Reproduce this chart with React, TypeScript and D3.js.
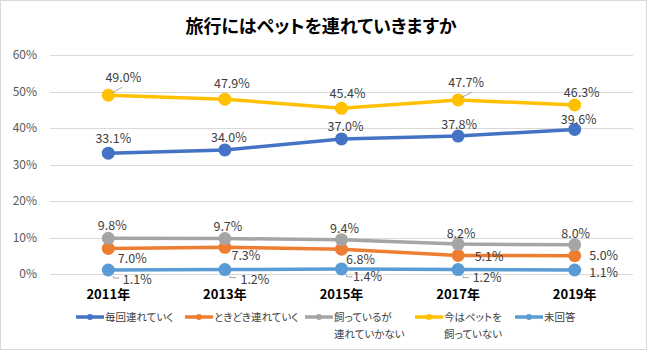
import React, { useRef, useEffect } from "react";
import * as d3 from "d3";

// データ
const years = ["2011年", "2013年", "2015年", "2017年", "2019年"];
const seriesNames = [
  "毎回連れていく",
  "ときどき連れていく",
  "飼っているが\n連れていかない",
  "今はペットを\n飼っていない",
  "未回答",
];
const everyTime = [33.1, 34.0, 37.0, 37.8, 39.6];
const sometimes = [7.0, 7.3, 6.8, 5.1, 5.0];
const ownButNot = [9.8, 9.7, 9.4, 8.2, 8.0];
const noPetNow = [49.0, 47.9, 45.4, 47.7, 46.3];
const noAnswer = [1.1, 1.2, 1.4, 1.2, 1.1];
const yTicks = [0, 10, 20, 30, 40, 50, 60];

const colors = ["#4472C4", "#ED7D31", "#A5A5A5", "#FFC000", "#5B9BD5"];

// ラベル位置の調整 (点からのずれ)
const labelShift = [
  [[5, -15], [4, -12], [4, -12], [1, -12], [4, -10]],
  [[24, 10], [21, 8], [19, 10], [31, 1], [29, 0]],
  [[4, -13], [3, -12], [3, -11], [3, -11], [1, -11]],
  [[15, -18], [7, -16], [6, -15], [8, -17], [7, -13]],
  [[29, 10], [30, 10], [26, 8], [29, 8], [29, 3]],
];
const legendX = [76, 185, 305, 415, 515];

const FONT = "'Noto Sans CJK JP', 'Noto Sans', sans-serif";

export default function App() {
  const ref = useRef<HTMLDivElement>(null);

  useEffect(() => {
    const data = [everyTime, sometimes, ownButNot, noPetNow, noAnswer];
    const width = 647;
    const height = 350;

    const x = d3.scaleBand().domain(years).range([50, 633]).padding(0);
    const cx = (d: string) => (x(d) as number) + x.bandwidth() / 2;
    const y = d3.scaleLinear().domain([0, 60]).range([274, 55]);

    const svg = d3
      .select(ref.current)
      .html("")
      .append("svg")
      .attr("width", width)
      .attr("height", height)
      .style("display", "block")
      .style("font-family", FONT)
      .style("font-feature-settings", '"palt"');

    svg
      .append("rect")
      .attr("x", 0.5)
      .attr("y", 0.5)
      .attr("width", width - 1)
      .attr("height", height - 1)
      .attr("fill", "#fff")
      .attr("stroke", "#d9d9d9");

    // タイトル
    svg
      .append("text")
      .attr("x", 321)
      .attr("y", 33)
      .attr("text-anchor", "middle")
      .attr("font-size", 18)
      .attr("font-weight", "bold")
      .attr("fill", "#000")
      .text("旅行にはペットを連れていきますか");

    // 目盛線
    svg
      .append("g")
      .selectAll("line")
      .data(yTicks)
      .enter()
      .append("line")
      .attr("x1", 50)
      .attr("x2", 633)
      .attr("y1", (d) => Math.round(y(d)) + 0.5)
      .attr("y2", (d) => Math.round(y(d)) + 0.5)
      .attr("stroke", "#d9d9d9");

    svg
      .append("g")
      .selectAll("text")
      .data(yTicks)
      .enter()
      .append("text")
      .attr("x", 37)
      .attr("y", (d) => y(d) + 4)
      .attr("text-anchor", "end")
      .attr("font-size", 12)
      .attr("fill", "#595959")
      .text((d) => d + "%");

    // x 軸ラベル
    svg
      .append("g")
      .selectAll("text")
      .data(years)
      .enter()
      .append("text")
      .attr("x", (d) => cx(d))
      .attr("y", 299)
      .attr("text-anchor", "middle")
      .attr("font-size", 13)
      .attr("font-weight", "bold")
      .attr("fill", "#000")
      .text((d) => d);

    const line = d3
      .line<number>()
      .x((d, i) => cx(years[i]))
      .y((d) => y(d));

    // 線とマーカー
    data.forEach((vals, s) => {
      const g = svg.append("g");
      g.append("path")
        .attr("d", line(vals))
        .attr("fill", "none")
        .attr("stroke", colors[s])
        .attr("stroke-width", 3.5)
        .attr("stroke-linejoin", "round");
      g.selectAll("circle")
        .data(vals)
        .enter()
        .append("circle")
        .attr("cx", (d, i) => cx(years[i]))
        .attr("cy", (d) => y(d))
        .attr("r", 6.5)
        .attr("fill", colors[s]);
    });

    // 引き出し線
    const leaders = svg.append("g").attr("stroke", "#a6a6a6").attr("fill", "none");
    [0, 3].forEach((i) => {
      const px = cx(years[i]);
      const py = y(noPetNow[i]);
      leaders
        .append("line")
        .attr("x1", px + 3)
        .attr("y1", py - 2)
        .attr("x2", px + 14)
        .attr("y2", py - 8);
    });
    [0, 1, 2, 3].forEach((i) => {
      const px = cx(years[i]);
      const py = y(noAnswer[i]);
      leaders
        .append("polyline")
        .attr("points", `${px + 5},${py + 6} ${px + 5},${py + 8} ${px + 11},${py + 8}`);
    });

    // データラベル
    data.forEach((vals, s) => {
      svg
        .append("g")
        .selectAll("text")
        .data(vals)
        .enter()
        .append("text")
        .attr("x", (d, i) => cx(years[i]) + labelShift[s][i][0])
        .attr("y", (d, i) => y(d) + labelShift[s][i][1] + 4.5)
        .attr("text-anchor", "middle")
        .attr("font-size", 12.5)
        .attr("fill", "#404040")
        .text((d) => d.toFixed(1) + "%");
    });

    // 凡例
    const legend = svg.append("g");
    seriesNames.forEach((name, s) => {
      const lx = legendX[s];
      legend
        .append("line")
        .attr("x1", lx)
        .attr("x2", lx + 28)
        .attr("y1", 317)
        .attr("y2", 317)
        .attr("stroke", colors[s])
        .attr("stroke-width", 3.5);
      legend
        .append("circle")
        .attr("cx", lx + 14)
        .attr("cy", 317)
        .attr("r", 3)
        .attr("fill", colors[s]);
      name.split("\n").forEach((t, k) => {
        legend
          .append("text")
          .attr("x", lx + 29)
          .attr("y", 321 + k * 17)
          .attr("font-size", 10.5)
          .attr("fill", "#404040")
          .text(t);
      });
    });
  }, []);

  return (
    <div
      ref={ref}
      style={{ position: "absolute", left: 0, top: 0, width: 647, height: 350 }}
    ></div>
  );
}
